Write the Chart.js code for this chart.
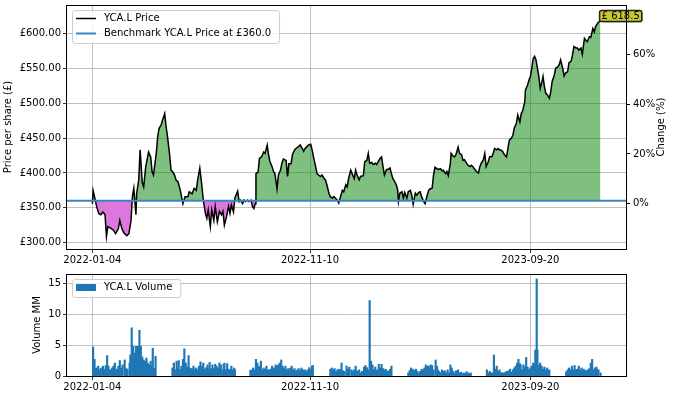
<!DOCTYPE html>
<html>
<head>
<meta charset="utf-8">
<script src="https://cdn.jsdelivr.net/npm/chart.js@4.4.0/dist/chart.umd.min.js"></script>
<style>
  body { margin: 0; background: #fff; }
  #wrap { position: relative; width: 676px; height: 398px; }
  canvas { position: absolute; left: 0; }
</style>
</head>
<body>
<div id="wrap">
  <canvas id="price-graph" width="676" height="268" style="top:0"></canvas>
  <canvas id="volume-graph" width="676" height="130" style="top:268px"></canvas>
</div>
<script>
const ticker = 'YCA.L';
const startDate = '2022-01-04';
const benchmark = 360.0;
const xTickDates = ['2022-01-04', '2022-11-10', '2023-09-20'];
const priceTicks = [300, 350, 400, 450, 500, 550, 600];
const changeTicks = [0, 20, 40, 60];
const volumeTicks = [0, 5, 10, 15];

// days since startDate and closing price (£)
const priceDays = [0, 1, 3, 6, 9, 12, 15, 18, 20, 22, 26, 30, 33, 37, 39, 42, 45, 49, 52, 55, 57, 59, 62, 63, 66, 68, 71, 73, 76, 80,
  83, 85, 87, 91, 93, 95, 98, 100, 103, 105, 107, 110, 112, 114, 117, 119, 122, 125, 129, 132, 136, 138, 142, 145, 148, 150, 153, 155, 158, 161,
  163, 165, 168, 170, 173, 175, 178, 181, 184, 186, 188, 191, 194, 196, 198, 201, 203, 207, 209, 211, 214, 216, 218, 221, 223, 226, 228, 230, 232, 233,
  236, 238, 241, 244, 246, 249, 251, 253, 256, 258, 260, 263, 265, 268, 270, 272, 276, 278, 280, 283, 285, 288, 290, 294, 296, 299, 301, 303, 306, 308,
  311, 313, 315, 318, 320, 322, 325, 327, 330, 332, 334, 337, 339, 342, 344, 346, 349, 351, 353, 356, 358, 361, 363, 365, 368, 370, 373, 375, 377, 380,
  382, 386, 388, 391, 393, 395, 398, 400, 403, 405, 407, 410, 412, 414, 416, 419, 421, 424, 426, 428, 431, 433, 435, 436, 438, 441, 443, 445, 448, 450,
  453, 455, 457, 460, 462, 465, 467, 469, 472, 474, 477, 479, 481, 484, 486, 488, 491, 493, 496, 498, 500, 503, 505, 507, 510, 511, 514, 516, 518, 521,
  523, 526, 528, 530, 533, 535, 538, 540, 542, 545, 547, 550, 552, 554, 557, 559, 561, 564, 566, 569, 571, 573, 576, 578, 580, 582, 585, 587, 590, 592,
  594, 597, 599, 601, 604, 606, 609, 611, 613, 616, 617, 620, 622, 624, 626, 628, 630, 632, 634, 636, 638, 641, 642, 644, 646, 648, 651, 653, 655, 658,
  660, 663, 665, 667, 670, 672, 674, 677, 679, 682, 684, 686, 689, 691, 693, 696, 698, 701, 703, 705, 708, 710, 713, 715, 717, 719, 721, 724];
const priceValues = [356, 375, 366, 352, 342, 340, 344, 340, 309, 323, 321, 318, 313, 320, 332, 320, 314, 310, 313, 332, 366, 378, 340, 370, 390, 433, 386, 380, 409, 430,
  423, 402, 397, 428, 452, 464, 469, 476, 485, 466, 452, 426, 404, 402, 397, 390, 387, 376, 356, 366, 366, 373, 370, 378, 375, 390, 407, 390, 361, 342,
  335, 347, 323, 347, 332, 352, 330, 345, 340, 345, 325, 337, 352, 342, 354, 344, 364, 374, 359, 361, 356, 361, 359, 361, 359, 361, 352, 349, 356, 399,
  401, 421, 423, 430, 428, 440, 426, 416, 409, 402, 399, 377, 397, 404, 414, 420, 418, 395, 413, 413, 426, 433, 435, 438, 440, 435, 431, 435, 438, 440,
  441, 433, 423, 409, 399, 397, 395, 397, 392, 390, 383, 371, 366, 364, 366, 364, 361, 357, 364, 375, 373, 383, 380, 392, 404, 399, 392, 404, 397, 390,
  395, 396, 416, 418, 428, 414, 415, 412, 414, 412, 416, 421, 423, 409, 397, 405, 405, 407, 399, 392, 387, 383, 375, 359, 371, 373, 364, 372, 364, 373,
  375, 368, 355, 371, 368, 372, 373, 366, 359, 356, 368, 375, 377, 378, 397, 408, 406, 405, 406, 403, 404, 399, 402, 396, 414, 428, 424, 423, 426, 437,
  428, 426, 418, 419, 414, 411, 409, 411, 409, 405, 402, 400, 409, 414, 419, 428, 409, 416, 423, 423, 428, 435, 433, 435, 433, 433, 430, 426, 423, 435,
  447, 450, 454, 464, 471, 483, 473, 485, 489, 502, 519, 526, 533, 538, 550, 564, 567, 562, 550, 538, 521, 533, 538, 523, 514, 512, 507, 516, 531, 540,
  550, 552, 555, 562, 550, 539, 543, 545, 558, 560, 569, 581, 579, 579, 576, 579, 570, 593, 590, 588, 595, 594, 607, 602, 610, 613, 616, 618.5];

// days since startDate and traded volume (millions)
const volumeDays = [1, 3, 5, 8, 10, 12, 15, 17, 19, 21, 23, 25, 28, 30, 32, 35, 37, 39, 41, 43, 46, 48, 50, 53, 54, 56, 58, 60, 62, 63,
  65, 67, 69, 71, 73, 75, 77, 79, 81, 83, 84, 86, 88, 90,
  114, 116, 118, 120, 122, 123, 125, 127, 129, 131, 133, 135, 137, 139, 141, 142, 144, 146, 148, 150, 152, 154, 156, 158, 160, 162, 164, 166, 167, 169,
  171, 173, 175, 177, 179, 181, 183, 185, 187, 188, 190, 192, 194, 196, 198, 200, 202, 203,
  225, 227, 229, 231, 233, 235, 237, 238, 240, 242, 244, 246, 248, 250, 252, 254, 256, 258, 259, 261, 263, 265, 267, 269, 271, 273, 275, 277, 279, 280,
  282, 284, 286, 288, 290, 292, 294, 296, 298, 300, 301, 303, 305, 307, 309, 311, 313, 314,
  339, 341, 343, 345, 347, 349, 351, 353, 355, 357, 359, 362, 364, 366, 369, 371, 373, 375, 377, 380, 382, 384, 387, 389, 391, 393, 395, 397, 399, 401,
  403, 405, 406, 408, 410, 412, 414, 416, 418, 420, 422, 424, 426,
  450, 452, 454, 456, 457, 459, 461, 463, 465, 467, 469, 471, 473, 475, 477, 479, 480, 482, 484, 486, 489, 491, 492, 494, 496, 498, 500, 502, 504, 506,
  508, 510, 512, 514, 516, 518, 519, 521, 523, 525, 527, 529, 531, 533, 535, 537, 539,
  562, 564, 566, 568, 570, 572, 574, 576, 578, 580, 582, 583, 585, 587, 589, 591, 593, 595, 597, 599, 601, 603, 605, 607, 609, 610, 612, 614, 616, 618,
  620, 622, 624, 626, 628, 630, 631, 633, 634, 636, 638, 640, 642, 644, 646, 648, 649, 651,
  675, 677, 679, 681, 683, 685, 687, 689, 691, 693, 695, 697, 699, 700, 702, 704, 706, 708, 710, 712, 714, 716, 718, 719, 721, 724];
const volumeValues = [4.7, 2.7, 1.3, 1.6, 1.0, 1.3, 1.6, 1.1, 1.7, 3.3, 1.6, 1.0, 1.3, 1.6, 2.1, 1.1, 1.6, 2.5, 1.3, 1.8, 2.6, 1.2, 1.1, 2.1, 3.4, 7.8, 4.8, 3.7, 4.8, 2.6,
  4.8, 7.4, 4.8, 3.1, 2.6, 2.4, 2.9, 2.1, 1.8, 2.4, 1.6, 4.5, 1.3, 3.2,
  1.3, 2.1, 1.0, 2.4, 1.3, 2.5, 1.0, 1.6, 2.7, 4.4, 2.1, 1.45, 3.3, 1.3, 1.0, 1.2, 1.6, 1.1, 1.3, 1.0, 1.6, 2.3, 1.6, 2.1, 1.1, 1.35, 1.8, 1.0, 2.2, 1.2,
  1.8, 1.2, 1.9, 1.6, 1.3, 2.1, 1.8, 1.0, 1.9, 2.1, 1.0, 2.0, 1.1, 1.0, 1.6, 1.0, 1.3, 1.0,
  0.9, 1.0, 1.3, 1.0, 2.7, 2.1, 1.45, 1.6, 2.4, 1.0, 1.3, 1.1, 1.6, 1.0, 1.0, 1.1, 1.6, 1.0, 1.3, 1.8, 1.6, 1.8, 2.1, 2.6, 1.6, 1.2, 1.6, 1.0, 1.2, 1.0,
  1.3, 1.6, 1.0, 1.2, 0.85, 1.0, 1.2, 0.9, 1.3, 1.0, 0.9, 1.0, 0.75, 1.0, 1.35, 1.1, 1.6, 1.7,
  1.1, 1.3, 1.0, 1.2, 0.75, 1.0, 1.1, 1.0, 2.1, 0.85, 0.75, 1.6, 1.1, 1.45, 1.0, 0.8, 1.0, 1.6, 0.85, 1.0, 0.5, 0.75, 1.45, 1.7, 1.35, 1.0, 12.2, 2.4, 1.8, 1.0,
  1.45, 1.0, 0.75, 1.9, 1.3, 1.9, 1.2, 1.0, 1.1, 0.75, 0.85, 1.1, 1.6,
  0.5, 0.9, 1.3, 1.1, 1.0, 0.9, 1.1, 0.75, 0.5, 0.75, 1.1, 1.0, 1.3, 1.8, 1.6, 1.6, 1.3, 1.8, 1.7, 1.0, 2.6, 1.6, 1.0, 0.75, 0.5, 1.0, 0.75, 0.85, 0.5, 1.0,
  0.5, 1.8, 1.3, 0.75, 0.5, 0.85, 0.7, 1.0, 0.5, 0.6, 0.4, 0.5, 0.4, 0.7, 0.5, 0.4, 0.5,
  1.0, 0.5, 0.75, 0.5, 0.5, 3.4, 1.1, 1.6, 0.75, 1.0, 0.5, 0.5, 0.5, 0.5, 0.7, 0.75, 0.85, 1.1, 0.6, 1.0, 1.3, 1.6, 2.1, 2.7, 2.0, 1.8, 1.0, 1.8, 1.45, 3.0,
  1.45, 1.0, 1.3, 1.6, 2.1, 1.8, 4.2, 15.7, 4.2, 1.8, 2.1, 1.6, 1.1, 1.45, 1.0, 1.3, 0.9, 1.0,
  0.7, 1.0, 1.3, 1.0, 1.6, 1.0, 1.7, 1.0, 1.1, 1.6, 1.0, 1.3, 0.75, 1.1, 0.85, 0.9, 1.0, 1.2, 2.1, 2.7, 1.0, 1.3, 1.45, 1.1, 1.0, 0.5];

const FONT = '"DejaVu Sans", sans-serif';
const GRID = '#b0b0b0';
const DAY = 86400000;
const t0 = Date.parse(startDate);
const toDay = s => (Date.parse(s) - t0) / DAY;
const toDate = d => new Date(t0 + d * DAY).toISOString().slice(0, 10);

const span = priceDays[priceDays.length - 1] - priceDays[0];
const xMin = priceDays[0] - span * 0.05;
const xMax = priceDays[priceDays.length - 1] + span * 0.05;
const priceMin = 291, priceMax = 640.6;
const basePrice = priceValues[0];

const tickFont = { family: FONT, size: 10 };

// strip chart.js's own label padding so the plot box lands where we say
function noPad(s) {
    s.paddingTop = 0; s.paddingBottom = 0; s.paddingLeft = 0; s.paddingRight = 0;
}

function xAxis(height) {
    return {
        type: 'linear', min: xMin, max: xMax, offset: false,
        grid: { color: GRID, lineWidth: 0.8, tickColor: '#000', tickLength: 4, offset: false },
        border: { display: false },
        ticks: { font: tickFont, color: '#000', padding: 1, maxRotation: 0, callback: v => toDate(v) },
        afterBuildTicks: s => { s.ticks = xTickDates.map(d => ({ value: toDay(d) })); },
        afterFit: s => { s.height = height; noPad(s); }
    };
}

// frame, axis titles and legend box, matplotlib style
function framePlugin(titles, legend) {
    return {
        id: 'frame',
        afterDraw(chart) {
            const c = chart.ctx, a = chart.chartArea;
            c.save();
            c.strokeStyle = '#000';
            c.lineWidth = 1;
            c.strokeRect(Math.round(a.left) - 0.5, Math.round(a.top) + 0.5,
                Math.round(a.right - a.left) + 1, Math.round(a.bottom - a.top));
            c.fillStyle = '#000';
            c.font = '10px ' + FONT;
            c.textAlign = 'center';
            c.textBaseline = 'middle';
            titles.forEach(t => {
                c.save();
                c.translate(t.x, (a.top + a.bottom) / 2);
                c.rotate(-Math.PI / 2);
                c.fillText(t.text, 0, 0);
                c.restore();
            });
            // legend
            const lx = a.left + 5, ly = a.top + 5;
            let w = 0;
            legend.forEach(e => { w = Math.max(w, c.measureText(e.text).width); });
            const bw = w + 40, bh = legend.length * 15 + 3;
            c.beginPath();
            c.roundRect(lx + 0.5, ly + 0.5, bw, bh, 3);
            c.fillStyle = 'rgba(255,255,255,0.8)';
            c.fill();
            c.strokeStyle = '#cccccc';
            c.stroke();
            legend.forEach((e, i) => {
                const y = ly + 8.5 + i * 15;
                if (e.type === 'line') {
                    c.strokeStyle = e.color;
                    c.lineWidth = e.width;
                    c.beginPath();
                    c.moveTo(lx + 4, y);
                    c.lineTo(lx + 24, y);
                    c.stroke();
                } else {
                    c.fillStyle = e.color;
                    c.fillRect(lx + 4, y - 3.5, 20, 7);
                }
                c.fillStyle = '#000';
                c.textAlign = 'left';
                c.fillText(e.text, lx + 32, y);
            });
            c.restore();
        }
    };
}

const lastPricePlugin = {
    id: 'lastPrice',
    afterDatasetsDraw(chart) {
        const meta = chart.getDatasetMeta(0);
        const pt = meta.data[meta.data.length - 1];
        const c = chart.ctx;
        const label = '£ ' + priceValues[priceValues.length - 1].toFixed(1);
        c.save();
        c.font = '10px ' + FONT;
        const w = c.measureText(label).width + 4;
        const x = pt.x - 1, y = pt.y - 10;
        c.shadowColor = 'rgba(0,0,0,0.35)';
        c.shadowOffsetX = 1; c.shadowOffsetY = 1;
        c.beginPath();
        c.roundRect(x, y, w, 11, 2);
        c.fillStyle = '#c8c832';
        c.fill();
        c.shadowColor = 'transparent';
        c.strokeStyle = '#222';
        c.lineWidth = 1.5;
        c.stroke();
        c.fillStyle = '#000';
        c.textBaseline = 'middle';
        c.fillText(label, x + 2, y + 6);
        c.restore();
    }
};

new Chart(document.getElementById('price-graph'), {
    type: 'line',
    data: {
        datasets: [{
            label: ticker + ' Price',
            data: priceDays.map((d, i) => ({ x: d, y: priceValues[i] })),
            borderColor: '#000',
            borderWidth: 1.5,
            pointRadius: 0,
            tension: 0,
            order: 2,
            fill: { target: { value: benchmark }, above: 'rgba(0,128,0,0.5)', below: 'rgb(221,119,221)' }
        }, {
            label: 'Benchmark ' + ticker + ' Price at £' + benchmark.toFixed(1),
            data: [{ x: xMin, y: benchmark }, { x: xMax, y: benchmark }],
            borderColor: '#3a87c2',
            borderWidth: 2,
            pointRadius: 0,
            order: 1,
            fill: false
        }]
    },
    options: {
        responsive: false,
        animation: false,
        devicePixelRatio: 1,
        layout: { padding: { top: 5, left: 0, right: 0, bottom: 0 } },
        plugins: { legend: { display: false }, tooltip: { enabled: false } },
        scales: {
            x: xAxis(19),
            y: {
                min: priceMin, max: priceMax,
                grid: { color: GRID, lineWidth: 0.8, tickColor: '#000', tickLength: 4 },
                border: { display: false },
                ticks: { font: tickFont, color: '#000', padding: 2, callback: v => '£' + v.toFixed(2) },
                afterBuildTicks: s => { s.ticks = priceTicks.map(v => ({ value: v })); },
                afterFit: s => { s.width = 67; noPad(s); }
            },
            y1: {
                position: 'right',
                min: (priceMin / basePrice - 1) * 100,
                max: (priceMax / basePrice - 1) * 100,
                grid: { drawOnChartArea: false, tickColor: '#000', tickLength: 4 },
                border: { display: false },
                ticks: { font: tickFont, color: '#000', padding: 3, callback: v => v + '%' },
                afterBuildTicks: s => { s.ticks = changeTicks.map(v => ({ value: v })); },
                afterFit: s => { s.width = 50; noPad(s); }
            }
        }
    },
    plugins: [lastPricePlugin, framePlugin(
        [{ text: 'Price per share (£)', x: 8.5 }, { text: 'Change (%)', x: 661.5 }],
        [{ type: 'line', color: '#000', width: 1.5, text: ticker + ' Price' },
         { type: 'line', color: '#3a87c2', width: 2, text: 'Benchmark ' + ticker + ' Price at £' + benchmark.toFixed(1) }]
    )]
});

new Chart(document.getElementById('volume-graph'), {
    type: 'bar',
    data: {
        datasets: [{
            label: ticker + ' Volume',
            data: volumeDays.map((d, i) => ({ x: d, y: volumeValues[i] })),
            backgroundColor: '#1f77b4',
            borderWidth: 0,
            barThickness: 1.5
        }]
    },
    options: {
        responsive: false,
        animation: false,
        devicePixelRatio: 1,
        layout: { padding: { top: 6, left: 0, right: 50, bottom: 0 } },
        plugins: { legend: { display: false }, tooltip: { enabled: false } },
        scales: {
            x: xAxis(22),
            y: {
                min: 0, max: 16.5,
                grid: { color: GRID, lineWidth: 0.8, tickColor: '#000', tickLength: 4 },
                border: { display: false },
                ticks: { font: tickFont, color: '#000', padding: 2 },
                afterBuildTicks: s => { s.ticks = volumeTicks.map(v => ({ value: v })); },
                afterFit: s => { s.width = 67; noPad(s); }
            }
        }
    },
    plugins: [framePlugin(
        [{ text: 'Volume MM', x: 37 }],
        [{ type: 'box', color: '#1f77b4', text: ticker + ' Volume' }]
    )]
});
</script>
</body>
</html>
